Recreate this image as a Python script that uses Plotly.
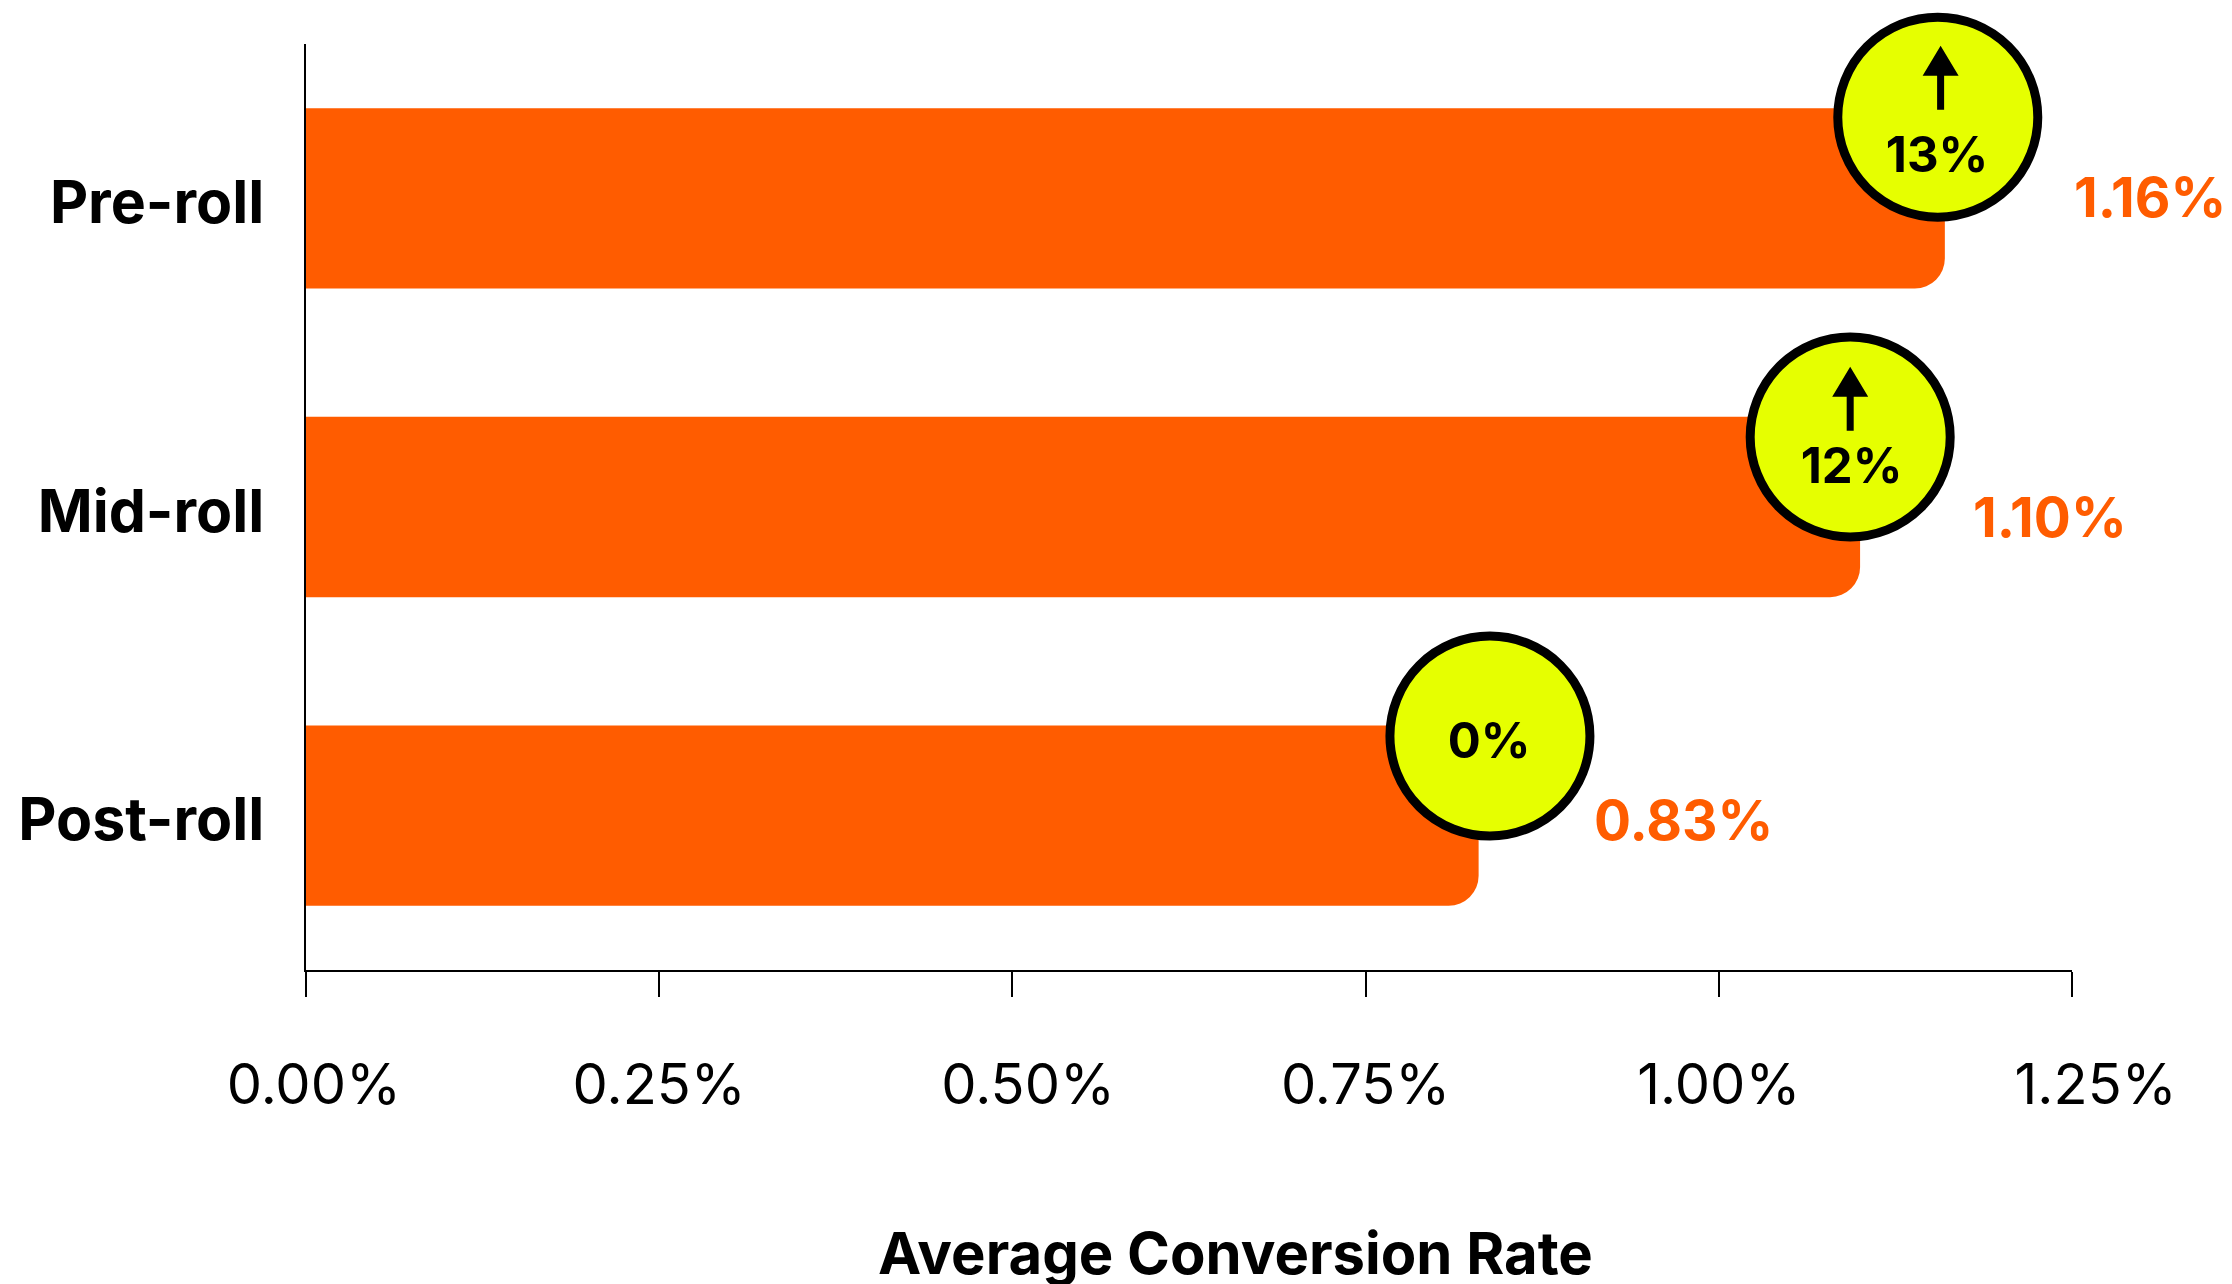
import plotly.graph_objects as go

categories = ["Pre-roll", "Mid-roll", "Post-roll"]
category_pos = [2, 1, 0]
conversion = [1.16, 1.10, 0.83]
value_labels = ["1.16%", "1.10%", "0.83%"]
value_label_dx = [128, 112, 114]
value_label_dy = [1, -10, -4]
badge_x = [1.155, 1.093, 0.838]
badge_y = [2.263, 1.227, 0.258]
badge_text = ["13%", "12%", "0%"]
badge_text_x = [1.1545, 1.094, 0.8374]
badge_text_y = [2.125, 1.116, 0.226]
arrow_x = [1.157, 1.093]
arrow_tip_y = [2.494, 1.454]
x_ticks = [0, 0.25, 0.5, 0.75, 1.0, 1.25]
x_tick_labels = ["0.00%", "0.25%", "0.50%", "0.75%", "1.00%", "1.25%"]
x_tick_pad = [1, 0, 2, 0, 0, 3]
axis_title = "Average Conversion Rate"

ORANGE = "#FF5C00"
LIME = "#E6FF00"
BLACK = "#000000"
FONT = "Inter"

fig = go.Figure()
fig.add_trace(go.Bar(
    x=conversion, y=category_pos, orientation="h", width=0.584,
    marker=dict(color=ORANGE, line=dict(width=0), cornerradius=30),
    hoverinfo="skip", showlegend=False,
))
fig.add_trace(go.Scatter(
    x=badge_x, y=badge_y, mode="markers", cliponaxis=False, showlegend=False,
    marker=dict(size=200, color=LIME, line=dict(color=BLACK, width=9)),
    hoverinfo="skip",
))
fig.add_trace(go.Scatter(
    x=badge_text_x, y=badge_text_y, mode="text", text=badge_text, cliponaxis=False,
    textposition="middle center", showlegend=False, hoverinfo="skip",
    textfont=dict(family=FONT, size=49, color=BLACK, weight=700),
))

for val, cat, label, dx, dy in zip(conversion, category_pos, value_labels, value_label_dx, value_label_dy):
    fig.add_annotation(
        text=label, xref="x", yref="y", x=val, y=cat, xanchor="left", yanchor="middle",
        xshift=dx, yshift=dy, showarrow=False, borderpad=0,
        font=dict(family=FONT, size=55, color=ORANGE, weight=700),
    )

ARROW_PATH = "M 0 0 L 18 -30 L 3.5 -30 L 3.5 -64 L -3.5 -64 L -3.5 -30 L -18 -30 Z"
for ax, ay in zip(arrow_x, arrow_tip_y):
    fig.add_shape(
        type="path", xsizemode="pixel", ysizemode="pixel",
        xanchor=ax, yanchor=ay, xref="x", yref="y",
        path=ARROW_PATH, fillcolor=BLACK, line=dict(width=0), layer="above",
    )

fig.add_annotation(
    text=axis_title, xref="x", yref="paper", x=0.658, y=-0.3056,
    xanchor="center", yanchor="middle", showarrow=False,
    font=dict(family=FONT, size=58, color=BLACK, weight=700),
)

fig.update_layout(
    width=2232, height=1284, paper_bgcolor="white", plot_bgcolor="white",
    margin=dict(l=306, r=160, t=44, b=314, autoexpand=False),
    showlegend=False,
    xaxis=dict(
        range=[0, 1.25], tickmode="array", tickvals=x_ticks,
        ticktext=["\u00a0" * p + t for p, t in zip(x_tick_pad, x_tick_labels)],
        ticks="outside", ticklen=25, tickwidth=2, tickcolor=BLACK,
        showline=True, linecolor=BLACK, linewidth=2, showgrid=False, zeroline=False,
        tickfont=dict(family=FONT, size=56, color=BLACK),
        ticklabelstandoff=40,
    ),
    yaxis=dict(
        range=[-0.5, 2.5], tickmode="array", tickvals=category_pos, ticktext=categories,
        ticks="", showline=True, linecolor=BLACK, linewidth=2, showgrid=False, zeroline=False,
        tickfont=dict(family=FONT, size=59, color=BLACK, weight=700),
        ticklabelstandoff=28, ticklabelshift=4,
    ),
)

fig.write_html("out.html", config={"displayModeBar": False},
               post_script="document.body.style.margin='0';")
